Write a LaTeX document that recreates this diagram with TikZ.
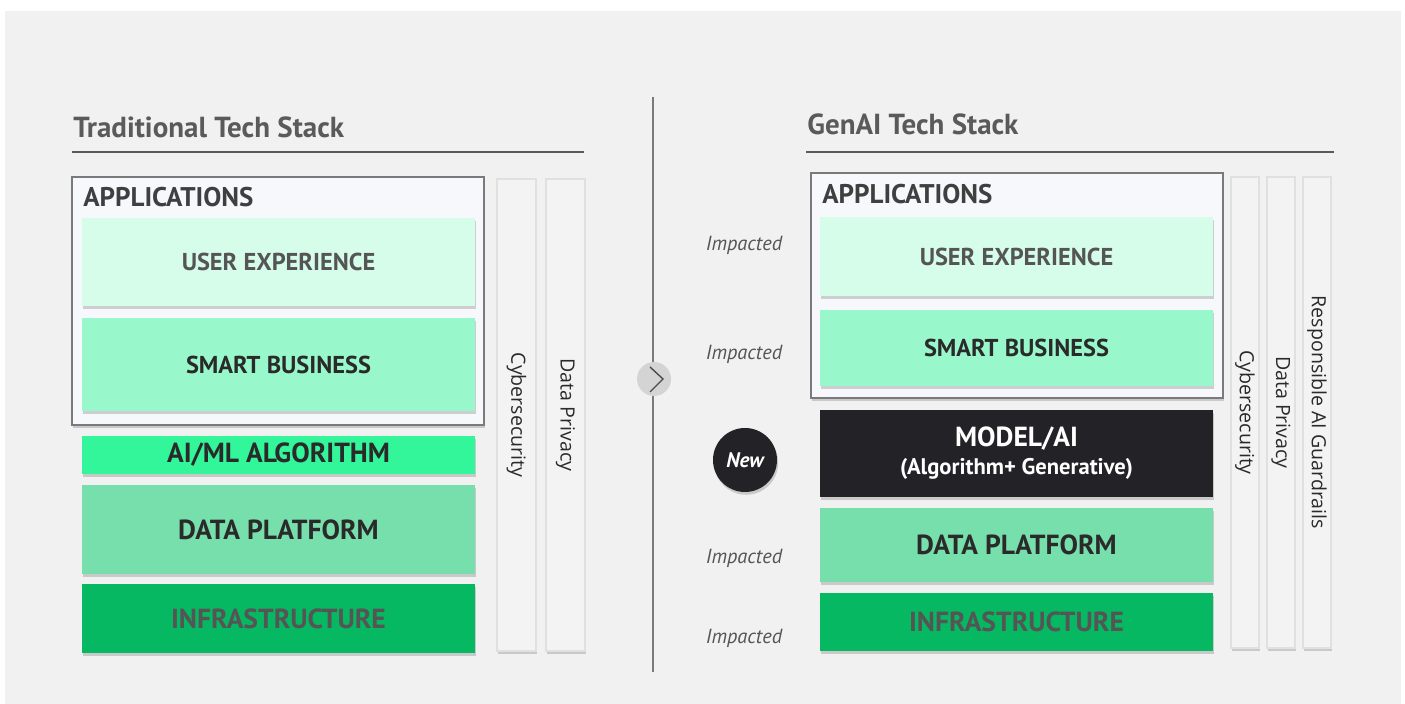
\documentclass[tikz,border=0pt]{standalone}
\usepackage{fontspec}
\setmainfont{PT Sans}
\newfontfamily\sidefont{Open Sans}
\usepackage{tikz}
\usetikzlibrary{shadows}

\definecolor{bggray}{HTML}{F1F1F1}
\definecolor{titlegray}{HTML}{5A5A5A}
\definecolor{boxborder}{HTML}{7A7A7A}
\definecolor{appfill}{HTML}{F7F8FC}
\definecolor{uxfill}{HTML}{D6FCEA}
\definecolor{sbfill}{HTML}{98F8CB}
\definecolor{aifill}{HTML}{33F59A}
\definecolor{dpfill}{HTML}{77DFAB}
\definecolor{infrafill}{HTML}{06B862}
\definecolor{modelfill}{HTML}{232327}
\definecolor{barfill}{HTML}{F3F3F3}
\definecolor{darktext}{HTML}{2A2A2A}
\definecolor{midtext}{HTML}{555555}

\begin{document}
\begin{tikzpicture}[x=0.5pt, y=-0.5pt,
    shade/.style={drop shadow={opacity=0.35, shadow xshift=0.6pt, shadow yshift=-1.4pt}},
    appbox/.style={draw=boxborder, line width=0.7pt, fill=appfill, shade,
        minimum width=206pt, inner sep=0pt, outer sep=0pt},
    layer/.style={shade, minimum width=196.5pt, inner sep=0pt, outer sep=0pt,
        font=\bfseries\fontsize{12.2}{14}\selectfont, align=center},
    biglayer/.style={layer, font=\bfseries\fontsize{13.8}{16}\selectfont},
    bar/.style={fill=barfill, draw=black!12, line width=0.6pt, shade, inner sep=0pt, outer sep=0pt},
    barlabel/.style={rotate=-90, font=\sidefont\fontsize{9.8}{12}\selectfont, text=darktext},
    stacktitle/.style={anchor=base west, inner sep=0pt, text=titlegray,
        font=\bfseries\fontsize{14.5}{17}\selectfont},
    applabel/.style={anchor=west, inner sep=0pt, text=darktext!90,
        font=\bfseries\fontsize{13.5}{16}\selectfont},
    impact/.style={text=midtext, font=\itshape\fontsize{10.2}{12}\selectfont}]

    % Frame and background
    \useasboundingbox (0,0) rectangle (1405,704);
    \fill[bggray] (5,11) rectangle (1401,704);

    % Traditional stack (left)
    \node[stacktitle] (ttitle) at (73,138) {Traditional Tech Stack};
    \coordinate (tline1) at (72,152);
    \coordinate (tline2) at (584,152);
    \draw[titlegray, line width=1pt] (tline1) -- (tline2);

    \node[appbox, minimum height=124pt] (tapp) at (278,301) {};
    \node[applabel] (tapplabel) at (83,197) {APPLICATIONS};
    \node[layer, fill=uxfill, text=midtext, minimum height=44pt] (tux) at (278.5,262) {USER EXPERIENCE};
    \node[layer, fill=sbfill, text=darktext, minimum height=46.5pt] (tsb) at (278.5,364.5) {SMART BUSINESS};
    \node[biglayer, fill=aifill, text=darktext, minimum height=19pt] (tai) at (278.5,455) {AI/ML ALGORITHM};
    \node[biglayer, fill=dpfill, text=darktext, minimum height=44.5pt] (tdp) at (278.5,529.5) {DATA PLATFORM};
    \node[biglayer, fill=infrafill, text=midtext, minimum height=34.5pt] (tinfra) at (278.5,618.5) {INFRASTRUCTURE};

    \node[bar, minimum width=19.5pt, minimum height=236pt] (tcyber) at (516.5,415) {};
    \node[bar, minimum width=19.5pt, minimum height=236pt] (tprivacy) at (565.5,415) {};
    \node[barlabel] (tcyberlabel) at (tcyber.center) {Cybersecurity};
    \node[barlabel] (tprivacylabel) at (tprivacy.center) {Data Privacy};

    % Divider with arrow button
    \coordinate (divtop) at (653,97);
    \coordinate (divbot) at (653,672);
    \draw[boxborder, line width=0.8pt] (divtop) -- (divbot);
    \node[circle, fill=black!17, minimum size=17pt, inner sep=0pt] (turn) at (654,379) {};
    \draw[black!70, line width=0.7pt] ([shift={(-4,-12)}]turn.center) -- ([shift={(9,0)}]turn.center) -- ([shift={(-4,13)}]turn.center);

    % GenAI stack (right)
    \node[stacktitle] (gtitle) at (807,135) {GenAI Tech Stack};
    \coordinate (gline1) at (806,152);
    \coordinate (gline2) at (1334,152);
    \draw[titlegray, line width=1pt] (gline1) -- (gline2);

    \node[appbox, minimum height=112.5pt] (gapp) at (1017,285.5) {};
    \node[applabel] (gapplabel) at (822,194) {APPLICATIONS};
    \node[layer, fill=uxfill, text=midtext, minimum height=39.5pt] (gux) at (1016.5,256.5) {USER EXPERIENCE};
    \node[layer, fill=sbfill, text=darktext, minimum height=38pt] (gsb) at (1016.5,348) {SMART BUSINESS};
    \node[biglayer, fill=modelfill, text=white, minimum height=43.5pt] (gmodel) at (1016.5,453.5)
        {MODEL/AI\\[-2pt]{\fontsize{11.3}{13}\selectfont(Algorithm+ Generative)}};
    \node[biglayer, fill=dpfill, text=darktext, minimum height=37pt] (gdp) at (1016.5,545) {DATA PLATFORM};
    \node[biglayer, fill=infrafill, text=midtext, minimum height=29pt] (ginfra) at (1016.5,622) {INFRASTRUCTURE};

    \node[bar, minimum width=14pt, minimum height=235.5pt] (gcyber) at (1245,412.5) {};
    \node[bar, minimum width=14pt, minimum height=235.5pt] (gprivacy) at (1281,412.5) {};
    \node[bar, minimum width=14pt, minimum height=235.5pt] (gguard) at (1317,412.5) {};
    \node[barlabel] (gcyberlabel) at (gcyber.center) {Cybersecurity};
    \node[barlabel] (gprivacylabel) at (gprivacy.center) {Data Privacy};
    \node[barlabel] (gguardlabel) at (gguard.center) {Responsible AI Guardrails};

    % Side notes
    \node[impact] (imp1) at (744,245) {Impacted};
    \node[impact] (imp2) at (744,354) {Impacted};
    \node[impact] (imp3) at (744,558) {Impacted};
    \node[impact] (imp4) at (744,638) {Impacted};
    \node[circle, fill=modelfill, shade, minimum size=32pt, inner sep=0pt, text=white,
        font=\bfseries\itshape\fontsize{10.5}{12}\selectfont] (new) at (745,460) {New};
\end{tikzpicture}
\end{document}
